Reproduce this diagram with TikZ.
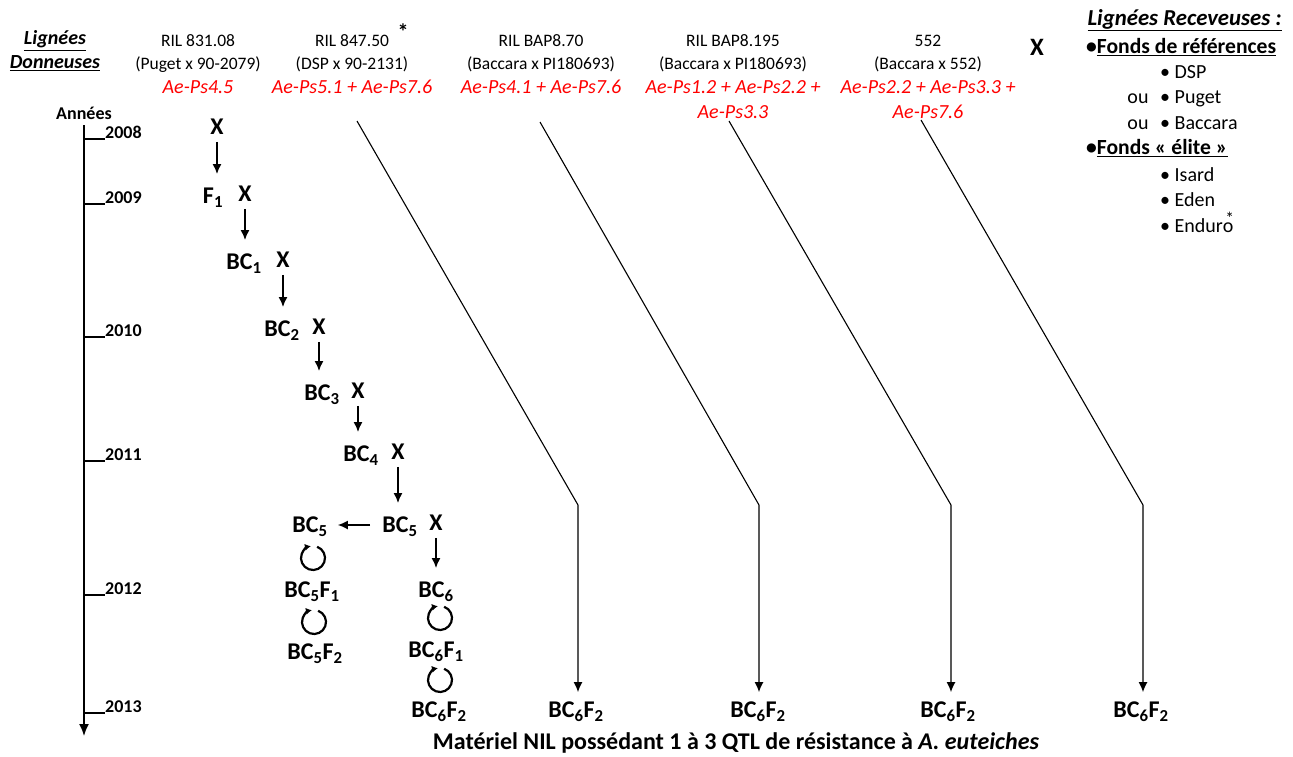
\documentclass[tikz,border=0pt]{standalone}
\usepackage{fontspec}
\setmainfont{Carlito}
\usepackage{tikz}
\usetikzlibrary{arrows.meta, calc}

\begin{document}
\begin{tikzpicture}[x=1pt, y=-1pt]
	\tikzstyle{gen}=[inner sep=0pt, text height=15.5pt, text depth=0pt, font=\fontsize{24}{27}\selectfont\bfseries]
	\tikzstyle{head}=[inner sep=0pt, text height=11.3pt, text depth=0pt, font=\fontsize{17.5}{20}\selectfont]
	\tikzstyle{qtl}=[inner sep=0pt, text height=12.9pt, text depth=0pt, text=red, font=\fontsize{20}{22}\selectfont\itshape]
	\tikzstyle{year}=[inner sep=0pt, anchor=south west, font=\fontsize{18}{20}\selectfont\bfseries]
	\tikzstyle{recv}=[inner sep=0pt, text height=13pt, text depth=0pt, anchor=west, font=\fontsize{20}{22}\selectfont]
	\tikzstyle{cross}=[-{Latex[length=10pt, width=9pt]}, line width=1.6pt, shorten <=7pt, shorten >=14pt]
	\tikzstyle{donor}=[-{Latex[length=10pt, width=9pt]}, line width=1.1pt, shorten >=10pt]
	\tikzstyle{selfing}=[-{Latex[length=6pt, width=7pt]}, line width=2.2pt]
	
	\useasboundingbox (0,0) rectangle (1293,756);
	
	% lignees donneuses
	\node (donor) at (55,51) [align=center, inner sep=0pt, font=\fontsize{20}{24}\selectfont\bfseries\itshape] {\underline{Lignées}\\\underline{Donneuses}};
	
	\node (ril1) at (198,41) [head] {RIL 831.08};
	\node (cr1) at (198,64) [head] {(Puget x 90-2079)};
	\node (q1) at (198,87) [qtl] {Ae-Ps4.5};
	
	\node (ril2) at (352,41) [head] {RIL 847.50};
	\node (ast2) at (403,32) [inner sep=0pt, font=\fontsize{22}{24}\selectfont\bfseries] {*};
	\node (cr2) at (352,64) [head] {(DSP x 90-2131)};
	\node (q2) at (352,87) [qtl] {Ae-Ps5.1 + Ae-Ps7.6};
	
	\node (ril3) at (541,41) [head] {RIL BAP8.70};
	\node (cr3) at (541,64) [head] {(Baccara x PI180693)};
	\node (q3) at (541,87) [qtl] {Ae-Ps4.1 + Ae-Ps7.6};
	
	\node (ril4) at (733,41) [head] {RIL BAP8.195};
	\node (cr4) at (733,64) [head] {(Baccara x PI180693)};
	\node (q4) at (733,87) [qtl] {Ae-Ps1.2 + Ae-Ps2.2 +};
	\node (q4b) at (733,112) [qtl] {Ae-Ps3.3};
	
	\node (ril5) at (928,41) [head] {552};
	\node (cr5) at (928,64) [head] {(Baccara x 552)};
	\node (q5) at (928,87) [qtl] {Ae-Ps2.2 + Ae-Ps3.3 +};
	\node (q5b) at (928,112) [qtl] {Ae-Ps7.6};
	
	\node (bigx) at (1037,47) [inner sep=0pt, font=\fontsize{25}{28}\selectfont\bfseries] {X};
	
	% lignees receveuses
	\node (recv) at (1282,20) [anchor=east, inner sep=0pt, font=\fontsize{22.8}{25}\selectfont\bfseries\itshape] {\underline{Lignées Receveuses :}};
	\node (fref) at (1086,47) [recv, font=\fontsize{21.6}{24}\selectfont\bfseries] {\textbullet\underline{Fonds de références}};
	\node (dsp) at (1160,72) [recv] {\textbullet\ DSP};
	\node (ou1) at (1138,97) [recv, anchor=center] {ou};
	\node (puget) at (1160,97) [recv] {\textbullet\ Puget};
	\node (ou2) at (1138,123) [recv, anchor=center] {ou};
	\node (baccara) at (1160,123) [recv] {\textbullet\ Baccara};
	\node (felite) at (1086,148) [recv, font=\fontsize{21.6}{24}\selectfont\bfseries] {\textbullet\underline{Fonds « élite »}};
	\node (isard) at (1160,175) [recv] {\textbullet\ Isard};
	\node (eden) at (1160,200) [recv] {\textbullet\ Eden};
	\node (enduro) at (1160,226) [recv] {\textbullet\ Endur\rlap{\kern0.12em\raisebox{0.42em}{\fontsize{17.5}{20}\selectfont *}}o};
	
	% annees
	\node (annees) at (84,113) [inner sep=0pt, font=\fontsize{18}{20}\selectfont\bfseries] {Années};
	\coordinate (t0) at (84,125);
	\coordinate (t1) at (84,736);
	\draw [-{Latex[length=12pt, width=10pt]}, line width=1.6pt] (t0) -- (t1);
	\node (y08) at (105,139) [year] {2008};
	\node (y09) at (105,204) [year] {2009};
	\node (y10) at (105,337) [year] {2010};
	\node (y11) at (105,461) [year] {2011};
	\node (y12) at (105,595) [year] {2012};
	\node (y13) at (105,713) [year] {2013};
	\draw [line width=1.4pt] (t0 |- y08.south) -- (y08.south west);
	\draw [line width=1.4pt] (t0 |- y09.south) -- (y09.south west);
	\draw [line width=1.4pt] (t0 |- y10.south) -- (y10.south west);
	\draw [line width=1.4pt] (t0 |- y11.south) -- (y11.south west);
	\draw [line width=1.4pt] (t0 |- y12.south) -- (y12.south west);
	\draw [line width=1.4pt] (t0 |- y13.south) -- (y13.south west);
	
	% retrocroisements
	\node (x0) at (217,127) [gen] {X};
	\node (f1) at (213,196) [gen] {F\textsubscript{1}};
	\node (x1) at (245,194) [gen] {X};
	\node (bc1) at (244,262) [gen] {BC\textsubscript{1}};
	\node (x2) at (283,260) [gen] {X};
	\node (bc2) at (282,329) [gen] {BC\textsubscript{2}};
	\node (x3) at (319,327) [gen] {X};
	\node (bc3) at (322,393) [gen] {BC\textsubscript{3}};
	\node (x4) at (358,391) [gen] {X};
	\node (bc4) at (361,454) [gen] {BC\textsubscript{4}};
	\node (x5) at (398,452) [gen] {X};
	\node (bc5) at (400,525) [gen] {BC\textsubscript{5}};
	\node (x6) at (436,523) [gen] {X};
	\node (bc5s) at (310,525) [gen] {BC\textsubscript{5}};
	\node (bc5f1) at (312,590) [gen] {BC\textsubscript{5}F\textsubscript{1}};
	\node (bc5f2) at (315,652) [gen] {BC\textsubscript{5}F\textsubscript{2}};
	\node (bc6) at (436,590) [gen] {BC\textsubscript{6}};
	\node (bc6f1) at (436,650) [gen] {BC\textsubscript{6}F\textsubscript{1}};
	\node (bc6f2) at (439,710) [gen] {BC\textsubscript{6}F\textsubscript{2}};
	
	\draw [cross] (x0) -- (x0 |- f1.north);
	\draw [cross] (x1) -- (x1 |- bc1.north);
	\draw [cross] (x2) -- (x2 |- bc2.north);
	\draw [cross] (x3) -- (x3 |- bc3.north);
	\draw [cross] (x4) -- (x4 |- bc4.north);
	\draw [cross] (x5) -- (x5 |- bc5.north);
	\draw [cross] (x6) -- (x6 |- bc6.north);
	\draw [cross, shorten <=12pt, shorten >=10pt] (bc5) -- (bc5s);
	
	% autofecondations
	\draw [selfing] (313,558) ++(-70:12) arc [start angle=-70, end angle=260, radius=12];
	\draw [selfing] (314,622) ++(-70:12) arc [start angle=-70, end angle=260, radius=12];
	\draw [selfing] (440,618) ++(-70:12) arc [start angle=-70, end angle=260, radius=12];
	\draw [selfing] (440,680) ++(-70:12) arc [start angle=-70, end angle=260, radius=12];
	
	% autres lignees
	\node (n2) at (576,710) [gen] {BC\textsubscript{6}F\textsubscript{2}};
	\node (n3) at (758,710) [gen] {BC\textsubscript{6}F\textsubscript{2}};
	\node (n4) at (948,710) [gen] {BC\textsubscript{6}F\textsubscript{2}};
	\node (n5) at (1141,710) [gen] {BC\textsubscript{6}F\textsubscript{2}};
	\coordinate (s2) at (357,121);
	\coordinate (k2) at (578,505);
	\coordinate (s3) at (540,122);
	\coordinate (k3) at (759,505);
	\coordinate (s4) at (729,121);
	\coordinate (k4) at (951,505);
	\coordinate (s5) at (921,120);
	\coordinate (k5) at (1143,505);
	\draw [donor] (s2) -- (k2) -- (k2 |- n2.north);
	\draw [donor] (s3) -- (k3) -- (k3 |- n3.north);
	\draw [donor] (s4) -- (k4) -- (k4 |- n4.north);
	\draw [donor] (s5) -- (k5) -- (k5 |- n5.north);
	
	\node (nil) at (736,743) [inner sep=0pt, font=\fontsize{24}{26}\selectfont\bfseries] {Matériel NIL possédant 1 à 3 QTL de résistance à \textit{A. euteiches}};
	
\end{tikzpicture}
\end{document}
